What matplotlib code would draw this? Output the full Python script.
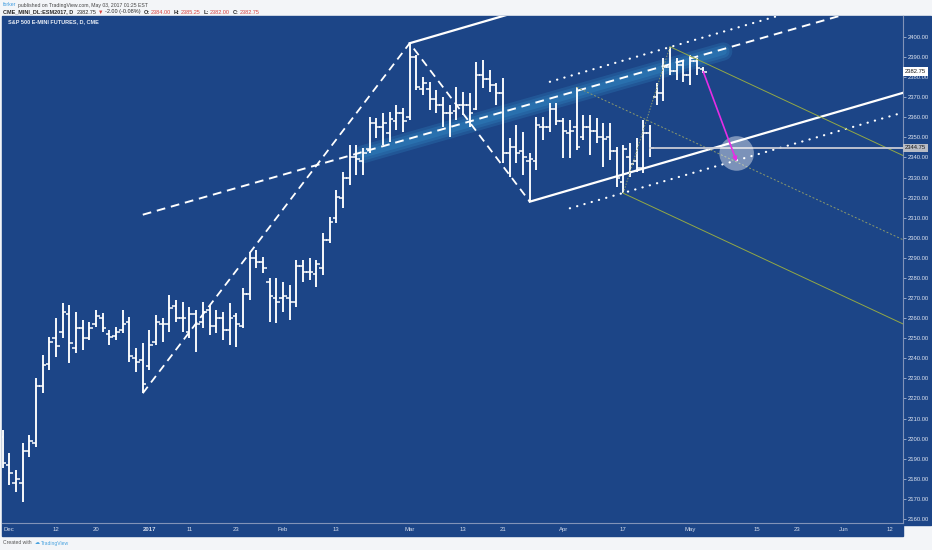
import numpy as np
import pandas as pd
import matplotlib
matplotlib.use("Agg")
import matplotlib.pyplot as plt
from matplotlib.collections import LineCollection
from matplotlib.transforms import blended_transform_factory

plt.rcParams["font.family"] = ["Liberation Sans", "DejaVu Sans"]

# ESM2017 daily bars, exchange holidays left out
holidays = ["2016-12-26", "2017-01-02", "2017-01-16", "2017-02-20", "2017-04-14"]
days = pd.bdate_range("2016-11-30", "2017-05-03", freq="C", holidays=holidays)
future = pd.bdate_range("2017-05-04", "2017-06-16")

opens = [2201, 2187, 2178, 2178, 2194, 2198, 2226, 2237, 2250, 2253, 2262, 2245, 2255, 2250, 2257, 2260,
         2252, 2251, 2254, 2258, 2240, 2239,
         2236, 2248, 2257, 2257, 2266, 2260, 2253, 2262, 2258, 2264, 2256, 2260, 2254, 2261, 2256, 2272,
         2290, 2288, 2278, 2270,
         2270, 2270, 2268, 2286, 2283, 2282, 2285, 2299, 2310, 2320, 2330, 2340, 2338, 2344, 2357, 2355,
         2352, 2358, 2362,
         2360, 2390, 2374, 2374, 2369, 2366, 2362, 2363, 2366, 2366, 2364, 2381, 2379, 2376, 2372, 2342,
         2345, 2343, 2338, 2338, 2355, 2355, 2364,
         2358, 2352, 2355, 2350, 2355, 2353, 2350, 2350, 2343, 2328, 2340, 2338, 2335, 2352, 2370, 2372,
         2385, 2383, 2386,
         2381, 2388, 2384]
highs = [2204.3, 2192.7, 2184.4, 2197.7, 2201.8, 2230, 2241.6, 2250.8, 2260, 2267.4, 2266.5, 2263.2, 2259,
         2258.2, 2264, 2262.4, 2254, 2255.7, 2264, 2260.7, 2245, 2247.5,
         2254, 2261.6, 2260, 2271.5, 2269, 2268.2, 2265.7, 2264, 2268.2, 2266.5, 2264, 2263.2, 2267.4,
         2262.4, 2274.9, 2293.1, 2294, 2290.6, 2279.8, 2279.8,
         2278.2, 2276.5, 2289, 2289, 2289.8, 2289, 2302.2, 2310.5, 2323.8, 2332.9, 2346.2, 2346.2, 2344.6,
         2360.3, 2359.5, 2362, 2362.8, 2366.1, 2364.5,
         2396.9, 2391, 2380.2, 2377.7, 2373.6, 2370.3, 2366.1, 2375.2, 2372.8, 2372, 2387.7, 2388.5, 2383.6,
         2376.9, 2379.4, 2349.5, 2356.2, 2352.8, 2342.1, 2360.3, 2360.3, 2367, 2367,
         2359.5, 2358.7, 2375.3, 2361.2, 2361.2, 2359.5, 2357, 2357, 2345.4, 2346.2, 2347.1, 2349.5, 2358.7,
         2356.2, 2377, 2389.4, 2395.2, 2389.4, 2388.5,
         2391, 2389.4, 2385.25]
lows = [2185.5, 2177, 2173.6, 2168.6, 2191, 2196, 2222.6, 2234.2, 2240.8, 2250, 2237.5, 2242.5, 2244,
        2249.1, 2255.7, 2253.2, 2246.6, 2249.1, 2252.4, 2238.3, 2233.3, 2222.6,
        2234.2, 2246.6, 2248.3, 2253.2, 2258.2, 2253.2, 2250, 2243.3, 2255, 2251.6, 2252.4, 2249.1, 2246.6,
        2245.8, 2255, 2269.1, 2284.8, 2282.3, 2258.2, 2257.4,
        2263.2, 2259, 2265.7, 2278.2, 2279, 2275.7, 2281.5, 2297.3, 2307.2, 2314.7, 2326.3, 2331.3, 2331.3,
        2342.1, 2349.5, 2346.2, 2347.9, 2353.7, 2352.8,
        2358.7, 2373.6, 2371.1, 2363.6, 2362, 2355.3, 2350.4, 2358.7, 2361.2, 2355.3, 2363.6, 2374.4, 2372.8,
        2366.1, 2337.1, 2330.4, 2337.1, 2331.3, 2318, 2333.8, 2348.7, 2352.8, 2356.2,
        2339.6, 2339.6, 2343.7, 2348.7, 2341.2, 2347.1, 2335.4, 2338.8, 2325.5, 2322.2, 2330.4, 2332.9, 2332.1,
        2340.4, 2366, 2368, 2381.1, 2378.6, 2377.8,
        2376.1, 2381.1, 2382]
closes = [2188, 2183, 2180, 2194, 2199, 2226, 2236.7, 2248, 2246, 2263, 2247.5, 2255, 2250, 2255, 2261, 2255,
          2250.5, 2253, 2257, 2241, 2238, 2227,
          2246.6, 2258.2, 2257, 2265, 2260, 2260, 2262, 2257, 2263, 2256, 2260, 2254, 2260, 2257, 2272, 2290,
          2288, 2285, 2271, 2268,
          2271, 2268, 2286, 2283, 2283, 2287, 2299, 2308, 2320.5, 2330, 2340, 2339, 2342, 2357, 2355, 2357,
          2359, 2362, 2358,
          2390, 2375, 2377, 2369, 2366, 2362, 2362, 2366, 2366, 2362, 2381, 2379, 2376, 2372, 2342, 2345,
          2342, 2340, 2339, 2356, 2355, 2364, 2358,
          2353, 2353, 2345, 2355, 2353, 2350, 2349, 2343, 2330, 2344, 2337, 2335, 2352, 2344.75, 2372, 2385,
          2383, 2386, 2381,
          2388, 2384.75, 2382.75]
assert len(opens) == len(highs) == len(lows) == len(closes) == len(days)

tick_dates = ["2016-12-01", "2016-12-12", "2016-12-20", "2017-01-03", "2017-01-11", "2017-01-23",
              "2017-02-01", "2017-02-13", "2017-03-01", "2017-03-13", "2017-03-21", "2017-04-03",
              "2017-04-17", "2017-05-01", "2017-05-15", "2017-05-23", "2017-06-01", "2017-06-12"]
tick_labels = ["Dec", "12", "20", "2017", "11", "23", "Feb", "13", "Mar", "13", "21", "Apr",
               "17", "May", "15", "23", "Jun", "12"]
price_ticks = list(range(2160, 2401, 10))

# drawings: (date, price) anchors
trend_dash = [("2016-12-30", 2311.5), ("2017-04-28", 2388.3)]
band_span = ("2017-02-17", "2017-05-08")
zigzag = [("2016-12-30", 2222.6), ("2017-03-01", 2396.9), ("2017-03-27", 2318.0)]
chan_low = [("2017-03-27", 2318.0), ("2017-05-03", 2343.2)]
chan_high_start = ("2017-03-01", 2396.9)
dot_high = [("2017-03-30", 2377.7), ("2017-04-28", 2396.9)]
dot_low = [("2017-04-04", 2314.7), ("2017-05-03", 2333.8)]
pitch_a = ("2017-04-05", 2375.0)
pitch_b = ("2017-04-17", 2322.2)
pitch_c = ("2017-04-26", 2395.2)
last_level = ("2017-04-21", 2344.75)
arrow_from = ("2017-05-03", 2382.7)
arrow_to = ("2017-05-10", 2338.0)
target = ("2017-05-10", 2342.0)

BLUE = "#1c4587"
W, H = 932, 550
all_days = days.append(future)
pos = {d.strftime("%Y-%m-%d"): i for i, d in enumerate(all_days)}
XMAX = 134.93

fig = plt.figure(figsize=(W / 100, H / 100), dpi=100, facecolor="#f3f5f8")


def panel(x0, y0, x1, y1, color):
    fig.add_artist(plt.Rectangle((x0 / W, 1 - y1 / H), (x1 - x0) / W, (y1 - y0) / H,
                                 transform=fig.transFigure, color=color, zorder=0))


panel(2, 16, 903, 536, BLUE)
panel(903, 16, 931, 525, BLUE)

ax = fig.add_axes([2 / W, 1 - 523 / H, 901 / W, 507 / H])
ax.set_facecolor(BLUE)
ax.set_xlim(-0.1, XMAX)
ax.set_ylim(2157.97, 2410.46)

# OHLC bars
x = np.arange(len(days))
ax.add_collection(LineCollection([[(xi, l), (xi, h)] for xi, h, l in zip(x, highs, lows)],
                                 colors="white", linewidths=1.35, zorder=4))
ticks = [[(xi - 0.55, o), (xi, o)] for xi, o in zip(x, opens)]
ticks += [[(xi, c), (xi + 0.55, c)] for xi, c in zip(x, closes)]
ax.add_collection(LineCollection(ticks, colors="white", linewidths=1.1, zorder=4))


def xy(a):
    return pos[a[0]], a[1]


def slope(a, b):
    (x0, y0), (x1, y1) = xy(a), xy(b)
    return (y1 - y0) / (x1 - x0)


def ray(start, k, **kw):
    x0, y0 = xy(start)
    ax.plot([x0, XMAX], [y0, y0 + k * (XMAX - x0)], **kw)


dashed = dict(color="white", lw=1.4, ls=(0, (4.5, 3)), dash_capstyle="butt", zorder=5)
dotted = dict(color="white", lw=1.6, ls=(0, (0.1, 3.3)), dash_capstyle="round", zorder=5)

# regression line with a soft highlighted stretch
k_tr = slope(*trend_dash)
x0, y0 = xy(trend_dash[0])
bx = np.array([pos[band_span[0]], pos[band_span[1]]])
for width in (13, 9, 5):
    ax.plot(bx, y0 + k_tr * (bx - x0) - 1.2, color="#3fb3ea", alpha=0.16, lw=width,
            solid_capstyle="round", zorder=3)
ray(trend_dash[0], k_tr, **dashed)

zx, zy = zip(*[xy(p) for p in zigzag])
ax.plot(zx, zy, **dict(dashed, lw=1.3))

k_ch = slope(*chan_low)
ray(chan_low[0], k_ch, color="white", lw=1.6, zorder=5)
ray(chan_high_start, k_ch, color="white", lw=1.6, zorder=5)
ray(dot_high[0], slope(*dot_high), **dotted)
ray(dot_low[0], slope(*dot_low), **dotted)

# pitchfork
ax_, ay_ = xy(pitch_a)
bx_, by_ = xy(pitch_b)
cx_, cy_ = xy(pitch_c)
mx, my = (bx_ + cx_) / 2, (by_ + cy_) / 2
k_pf = (my - ay_) / (mx - ax_)
olive = "#93a845"
ray(pitch_b, k_pf, color=olive, lw=0.7, zorder=5)
ray(pitch_c, k_pf, color=olive, lw=0.7, zorder=5)
ray(pitch_a, k_pf, color="#8c9a6c", lw=0.7, ls=(0, (2, 2)), zorder=5)
ax.plot([bx_, cx_], [by_, cy_], color="#8c9a6c", lw=0.7, ls=(0, (1.5, 1.5)), zorder=5)

# last close level, target circle and arrow
lx, ly = xy(last_level)
ax.plot([lx, XMAX], [ly, ly], color="#c8cbd5", lw=1.3, zorder=5)
tx, ty = xy(target)
ax.scatter([tx], [ty], s=620, color="white", alpha=0.42, edgecolors="none", zorder=6)
ax.annotate("", xy=xy(arrow_to), xytext=xy(arrow_from),
            arrowprops=dict(arrowstyle="-|>", color="#e52de5", lw=1.2, mutation_scale=6,
                            shrinkA=0, shrinkB=0), zorder=7)

# axes styling
for s in ("top", "left"):
    ax.spines[s].set_visible(False)
for s in ("right", "bottom"):
    ax.spines[s].set_color("#8193b8")
    ax.spines[s].set_linewidth(0.8)
ax.yaxis.tick_right()
ax.set_yticks(price_ticks)
ax.set_yticklabels([f"{v:.2f}" for v in price_ticks])
ax.tick_params(axis="y", length=2, width=0.6, colors="#a7b6d3", labelcolor="#dfe5f0",
               labelsize=4.2, pad=1.5)
ax.set_xticks([pos[d] for d in tick_dates])
ax.set_xticklabels(tick_labels)
ax.tick_params(axis="x", length=0, labelcolor="#d3dbea", labelsize=4.3, pad=3)
for t in ax.get_xticklabels():
    if t.get_text() == "2017":
        t.set_fontweight("bold")

tr = blended_transform_factory(ax.transAxes, ax.transData)
ax.text(1.002, closes[-1], f"{closes[-1]:.2f}", transform=tr, fontsize=4.2, color="#1a1a1a",
        va="center", ha="left", clip_on=False, zorder=8,
        bbox=dict(boxstyle="square,pad=0.3", fc="white", ec="none"))
ax.text(1.002, last_level[1], f"{last_level[1]:.2f}", transform=tr, fontsize=4.2, color="#1a1a1a",
        va="center", ha="left", clip_on=False, zorder=8,
        bbox=dict(boxstyle="square,pad=0.3", fc="#b8bcc5", ec="none"))

fig.text(8 / W, 1 - 22 / H, "S&P 500 E-MINI FUTURES, D, CME", color="#e8edf6", fontsize=4,
         fontweight="bold", va="center")


def place_row(xp, yp, pieces, size):
    r = fig.canvas.get_renderer()
    for txt, col, wt, gap in pieces:
        t = fig.text(xp / W, 1 - yp / H, txt, color=col, fontsize=size, fontweight=wt,
                     va="center", ha="left")
        xp = t.get_window_extent(r).x1 + gap


red = "#d9433f"
dark = "#2a2a2a"
place_row(3, 5, [("forker", "#3d9be0", "normal", 1.5),
                 ("published on TradingView.com, May 03, 2017 01:25 EST", "#444444", "normal", 0)], 3.7)
place_row(3, 12, [("CME_MINI_DL:ESM2017, D", dark, "bold", 3),
                  ("2382.75", dark, "normal", 1.5), ("▼", red, "normal", 1.5),
                  ("-2.00 (-0.08%)", dark, "normal", 3),
                  ("O:", dark, "bold", 1), ("2384.00", red, "normal", 3),
                  ("H:", dark, "bold", 1), ("2385.25", red, "normal", 3),
                  ("L:", dark, "bold", 1), ("2382.00", red, "normal", 3),
                  ("C:", dark, "bold", 1), ("2382.75", red, "normal", 0)], 4)
place_row(3, 543, [("Created with", "#555555", "normal", 3), ("☁", "#4aa3df", "normal", 1.5),
                   ("TradingView", "#4aa3df", "normal", 0)], 3.6)

fig.savefig("out.png", dpi=100, facecolor=fig.get_facecolor())
